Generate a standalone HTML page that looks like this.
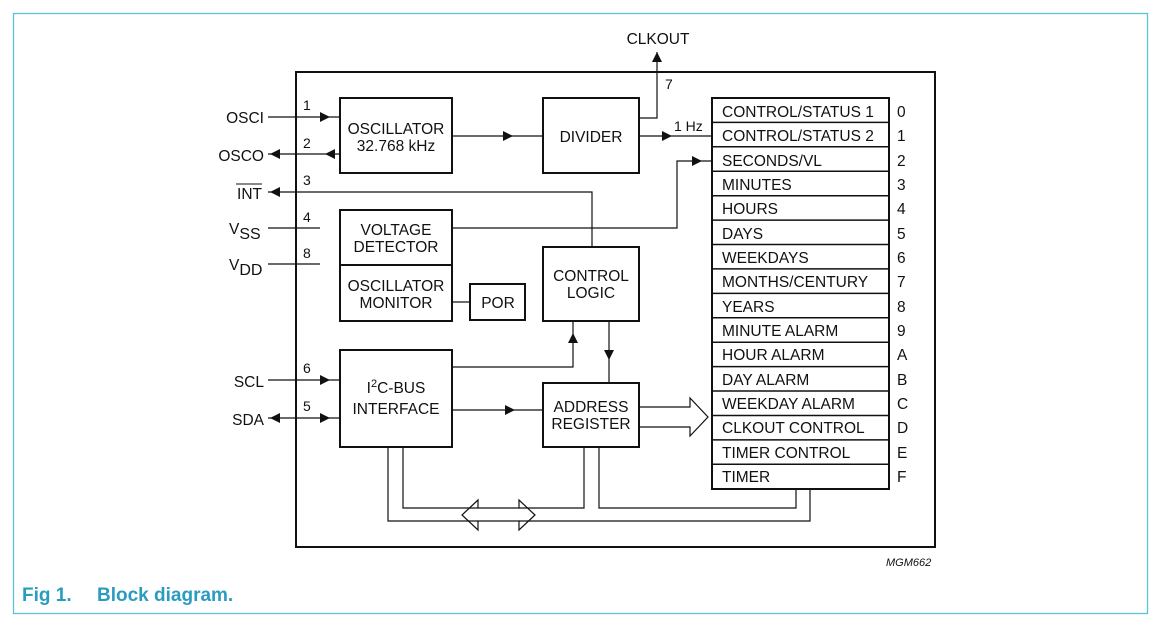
<!DOCTYPE html>
<html><head><meta charset="utf-8"><style>
html,body{margin:0;padding:0;background:#fff;}
svg text{font-family:"Liberation Sans",Arial,sans-serif;fill:#111;}
</style></head><body>
<svg width="1156" height="620" viewBox="0 0 1156 620" xmlns="http://www.w3.org/2000/svg">
<rect x="13.5" y="13.5" width="1134" height="600" fill="none" stroke="#5cc0d6" stroke-width="1.3"/>
<rect x="296" y="72" width="639" height="475" fill="none" stroke="#111" stroke-width="2"/>
<g fill="none" stroke="#111" stroke-width="2">
<rect x="340" y="98" width="112" height="75"/>
<rect x="543" y="98" width="96" height="75"/>
<rect x="340" y="210" width="112" height="55"/>
<rect x="340" y="265" width="112" height="56"/>
<rect x="470" y="284" width="55" height="36"/>
<rect x="543" y="247" width="96" height="74"/>
<rect x="340" y="350" width="112" height="97"/>
<rect x="543" y="383" width="96" height="64"/>
<rect x="712" y="98" width="177" height="391"/>
</g>
<g stroke="#111" stroke-width="1.5">
<line x1="712" y1="122.4" x2="889" y2="122.4"/><line x1="712" y1="146.8" x2="889" y2="146.8"/>
<line x1="712" y1="171.3" x2="889" y2="171.3"/><line x1="712" y1="195.7" x2="889" y2="195.7"/>
<line x1="712" y1="220.1" x2="889" y2="220.1"/><line x1="712" y1="244.5" x2="889" y2="244.5"/>
<line x1="712" y1="268.9" x2="889" y2="268.9"/><line x1="712" y1="293.4" x2="889" y2="293.4"/>
<line x1="712" y1="317.8" x2="889" y2="317.8"/><line x1="712" y1="342.2" x2="889" y2="342.2"/>
<line x1="712" y1="366.6" x2="889" y2="366.6"/><line x1="712" y1="391" x2="889" y2="391"/>
<line x1="712" y1="415.5" x2="889" y2="415.5"/><line x1="712" y1="439.9" x2="889" y2="439.9"/>
<line x1="712" y1="464.3" x2="889" y2="464.3"/>
</g>
<g fill="none" stroke="#111" stroke-width="1.2">
<path d="M268 117 H340"/><path d="M340 154 H268"/><path d="M592 247 V192 H268"/>
<path d="M268 228 H320"/><path d="M268 264 H320"/>
<path d="M452 136 H543"/><path d="M639 118 H657 V52"/><path d="M639 136 H712"/>
<path d="M452 228 H677 V161 H712"/><path d="M452 302 H470"/>
<path d="M452 367 H573 V321"/><path d="M609 321 V383"/>
<path d="M268 380 H340"/><path d="M268 418 H340"/><path d="M452 410 H543"/>
<path d="M639 407 H690 V398 L708 417 L690 436 V427 H639"/>
<path d="M388 447 V521 H478 M519 521 H810 V489"/>
<path d="M403 447 V508 H478 M519 508 H584 V447"/>
<path d="M599 447 V508 H796 V489"/>
<path d="M478 500 L462 515 L478 530 V521 H519 V530 L535 515 L519 500 V508 H478 Z"/>
</g>
<g fill="#111">
<path d="M320 112 L330 117 L320 122z"/>
<path d="M335 149 L325 154 L335 159z"/><path d="M280 149 L270 154 L280 159z"/>
<path d="M280 187 L270 192 L280 197z"/>
<path d="M503 131 L513 136 L503 141z"/>
<path d="M652 62 L657 52 L662 62z"/>
<path d="M662 131 L672 136 L662 141z"/>
<path d="M692 156 L702 161 L692 166z"/>
<path d="M568 343 L573 333 L578 343z"/><path d="M604 350 L609 360 L614 350z"/>
<path d="M320 375 L330 380 L320 385z"/>
<path d="M320 413 L330 418 L320 423z"/><path d="M280 413 L270 418 L280 423z"/>
<path d="M505 405 L515 410 L505 415z"/>
</g>
<g font-size="15.5">
<text x="658" y="44" text-anchor="middle">CLKOUT</text>
<text x="665" y="89" font-size="14">7</text>
<text x="674" y="131" font-size="14">1 Hz</text>
<text x="264" y="123" text-anchor="end">OSCI</text>
<text x="264" y="161" text-anchor="end">OSCO</text>
<text x="262" y="199" text-anchor="end">INT</text>
<line x1="236" y1="184" x2="262" y2="184" stroke="#111" stroke-width="1"/>
<text x="229" y="234">V<tspan font-size="16" dy="5">SS</tspan></text>
<text x="229" y="270">V<tspan font-size="16" dy="5">DD</tspan></text>
<text x="264" y="387" text-anchor="end">SCL</text>
<text x="264" y="425" text-anchor="end">SDA</text>
<text x="303" y="110" font-size="14">1</text>
<text x="303" y="148" font-size="14">2</text>
<text x="303" y="185" font-size="14">3</text>
<text x="303" y="222" font-size="14">4</text>
<text x="303" y="258" font-size="14">8</text>
<text x="303" y="373" font-size="14">6</text>
<text x="303" y="411" font-size="14">5</text>
<g text-anchor="middle">
<text x="396" y="134">OSCILLATOR</text><text x="396" y="151">32.768 kHz</text>
<text x="591" y="142">DIVIDER</text>
<text x="396" y="235">VOLTAGE</text><text x="396" y="252">DETECTOR</text>
<text x="396" y="291">OSCILLATOR</text><text x="396" y="308">MONITOR</text>
<text x="498" y="308">POR</text>
<text x="591" y="281">CONTROL</text><text x="591" y="298">LOGIC</text>
<text x="396" y="393">I<tspan font-size="11" dy="-6">2</tspan><tspan dy="6">C-BUS</tspan></text>
<text x="396" y="414">INTERFACE</text>
<text x="591" y="412">ADDRESS</text><text x="591" y="429">REGISTER</text>
</g>
<g>
<text x="722" y="117">CONTROL/STATUS 1</text><text x="722" y="141">CONTROL/STATUS 2</text>
<text x="722" y="166">SECONDS/VL</text><text x="722" y="190">MINUTES</text>
<text x="722" y="214">HOURS</text><text x="722" y="239">DAYS</text>
<text x="722" y="263">WEEKDAYS</text><text x="722" y="287">MONTHS/CENTURY</text>
<text x="722" y="312">YEARS</text><text x="722" y="336">MINUTE ALARM</text>
<text x="722" y="360">HOUR ALARM</text><text x="722" y="385">DAY ALARM</text>
<text x="722" y="409">WEEKDAY ALARM</text><text x="722" y="433">CLKOUT CONTROL</text>
<text x="722" y="458">TIMER CONTROL</text><text x="722" y="482">TIMER</text>
</g>
<g>
<text x="897" y="117">0</text><text x="897" y="141">1</text><text x="897" y="166">2</text><text x="897" y="190">3</text>
<text x="897" y="214">4</text><text x="897" y="239">5</text><text x="897" y="263">6</text><text x="897" y="287">7</text>
<text x="897" y="312">8</text><text x="897" y="336">9</text><text x="897" y="360">A</text><text x="897" y="385">B</text>
<text x="897" y="409">C</text><text x="897" y="433">D</text><text x="897" y="458">E</text><text x="897" y="482">F</text>
</g>
</g>
<text x="886" y="566" font-size="11" font-style="italic">MGM662</text>
<text x="22" y="601" font-size="19" font-weight="bold" style="fill:#2a9cc0">Fig 1.</text>
<text x="97" y="601" font-size="19" font-weight="bold" style="fill:#2a9cc0">Block diagram.</text>
</svg>
</body></html>
